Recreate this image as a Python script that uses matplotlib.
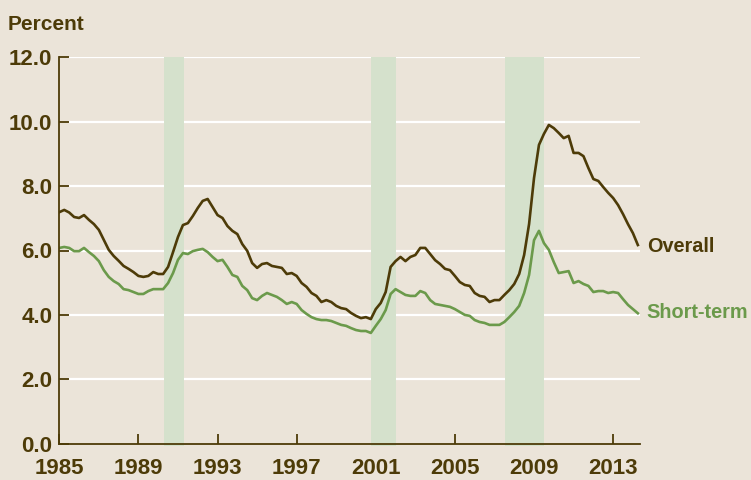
import numpy as np
import matplotlib
matplotlib.use("Agg")
import matplotlib.pyplot as plt

# Quarterly data, 1985Q1 .. 2014Q2
start_year = 1985.0
overall = [7.19, 7.26, 7.18, 7.04, 7.01, 7.10, 6.95, 6.82, 6.64, 6.33,
           6.02, 5.83, 5.68, 5.52, 5.43, 5.33, 5.21, 5.18, 5.21, 5.33,
           5.27, 5.27, 5.49, 5.95, 6.42, 6.79, 6.85, 7.07, 7.32, 7.54,
           7.60, 7.35, 7.10, 7.01, 6.76, 6.61, 6.51, 6.20, 5.99, 5.61,
           5.46, 5.58, 5.61, 5.52, 5.49, 5.46, 5.27, 5.30, 5.21, 4.99,
           4.87, 4.68, 4.59, 4.40, 4.46, 4.40, 4.28, 4.21, 4.18, 4.06,
           3.97, 3.90, 3.93, 3.87, 4.18, 4.37, 4.71, 5.49, 5.67, 5.80,
           5.67, 5.80, 5.86, 6.08, 6.08, 5.89, 5.70, 5.58, 5.43, 5.39,
           5.21, 5.02, 4.93, 4.90, 4.68, 4.59, 4.56, 4.40, 4.46, 4.46,
           4.62, 4.77, 4.96, 5.27, 5.86, 6.82, 8.25, 9.28, 9.62, 9.90,
           9.80, 9.65, 9.49, 9.56, 9.03, 9.03, 8.93, 8.56, 8.22, 8.16,
           7.97, 7.79, 7.63, 7.41, 7.13, 6.82, 6.54, 6.17]
short_term = [6.08, 6.11, 6.08, 5.98, 5.98, 6.08, 5.95, 5.83, 5.67, 5.39,
              5.18, 5.05, 4.96, 4.80, 4.77, 4.71, 4.65, 4.65, 4.74, 4.80,
              4.80, 4.80, 4.99, 5.30, 5.71, 5.92, 5.89, 5.98, 6.02, 6.05,
              5.95, 5.80, 5.67, 5.71, 5.49, 5.24, 5.18, 4.90, 4.77, 4.52,
              4.46, 4.59, 4.68, 4.62, 4.56, 4.46, 4.34, 4.40, 4.34, 4.15,
              4.03, 3.93, 3.87, 3.84, 3.84, 3.81, 3.75, 3.69, 3.66, 3.59,
              3.53, 3.50, 3.50, 3.44, 3.66, 3.87, 4.15, 4.65, 4.80, 4.71,
              4.62, 4.59, 4.59, 4.74, 4.68, 4.46, 4.34, 4.31, 4.28, 4.25,
              4.18, 4.09, 4.00, 3.97, 3.84, 3.78, 3.75, 3.69, 3.69, 3.69,
              3.78, 3.93, 4.09, 4.28, 4.68, 5.24, 6.32, 6.61, 6.23, 6.02,
              5.64, 5.30, 5.33, 5.36, 4.99, 5.05, 4.96, 4.90, 4.71, 4.74,
              4.74, 4.68, 4.71, 4.68, 4.49, 4.31, 4.18, 4.05]
recession_starts = [1990.3, 2000.76, 2007.53]
recession_ends = [1991.3, 2002.0, 2009.5]
x_ticks = [1985, 1989, 1993, 1997, 2001, 2005, 2009, 2013]
y_ticks = [0.0, 2.0, 4.0, 6.0, 8.0, 10.0, 12.0]
series_labels = ["Overall", "Short-term"]
y_label = "Percent"

quarters = start_year + np.arange(len(overall)) * 0.25

BG = "#ebe4d9"
BROWN = "#4d3b08"
GREEN = "#6b9a4b"
BAND = "#d5e1cc"

fig = plt.figure(figsize=(7.51, 4.80), dpi=100, facecolor=BG)
ax = fig.add_axes([59.3 / 751, 36.3 / 480, (640 - 59.3) / 751, (443.7 - 57.3) / 480])
ax.set_facecolor(BG)
ax.set_xlim(1985, 1985 + (640 - 59.3) / 19.78)
ax.set_ylim(0, 12)

# gridlines (start after the inward tick)
tick_frac = 9.7 / (640 - 59.3)
for yv in y_ticks[1:]:
    ax.axhline(yv, xmin=tick_frac, xmax=1.0, color="white", lw=1.6, zorder=1)

for s, e in zip(recession_starts, recession_ends):
    ax.axvspan(s, e, ymin=-0.006, ymax=1.0, color=BAND, lw=0, zorder=2, clip_on=False)

ax.plot(quarters, overall, color=BROWN, lw=1.9, zorder=4, solid_joinstyle="round")
ax.plot(quarters, short_term, color=GREEN, lw=1.9, zorder=4, solid_joinstyle="round")

for sp in ["top", "right"]:
    ax.spines[sp].set_visible(False)
for sp in ["left", "bottom"]:
    ax.spines[sp].set_color(BROWN)
    ax.spines[sp].set_linewidth(1.3)
    ax.spines[sp].set_zorder(5)

tick_font = dict(family=["Liberation Sans", "DejaVu Sans"], weight="bold", size=16)
ax.set_xticks(x_ticks)
ax.set_xticklabels([str(t) for t in x_ticks], **tick_font)
ax.set_yticks(y_ticks)
ax.set_yticklabels([f"{t:.1f}" for t in y_ticks], **tick_font)
ax.tick_params(axis="x", direction="in", length=7, width=1.3, color=BROWN,
               labelcolor=BROWN, pad=10)
ax.tick_params(axis="y", direction="in", length=7, width=1.3, color=BROWN,
               labelcolor=BROWN, pad=5)

fig.text(8 / 751, 1 - 30 / 480, y_label, color=BROWN, ha="left", va="baseline",
         family=["Liberation Sans", "DejaVu Sans"], weight="bold", size=15)

lab_font = dict(family=["Liberation Sans", "DejaVu Sans"], weight="bold", size=14.3)
ax.annotate(series_labels[0], xy=(quarters[-1], overall[-1]), xytext=(9, -7),
            textcoords="offset pixels", ha="left", va="baseline", color=BROWN,
            annotation_clip=False, **lab_font)
ax.annotate(series_labels[1], xy=(quarters[-1], short_term[-1]), xytext=(9, -5),
            textcoords="offset pixels", ha="left", va="baseline", color=GREEN,
            annotation_clip=False, **lab_font)

fig.savefig("out.png", dpi=100, facecolor=BG)
